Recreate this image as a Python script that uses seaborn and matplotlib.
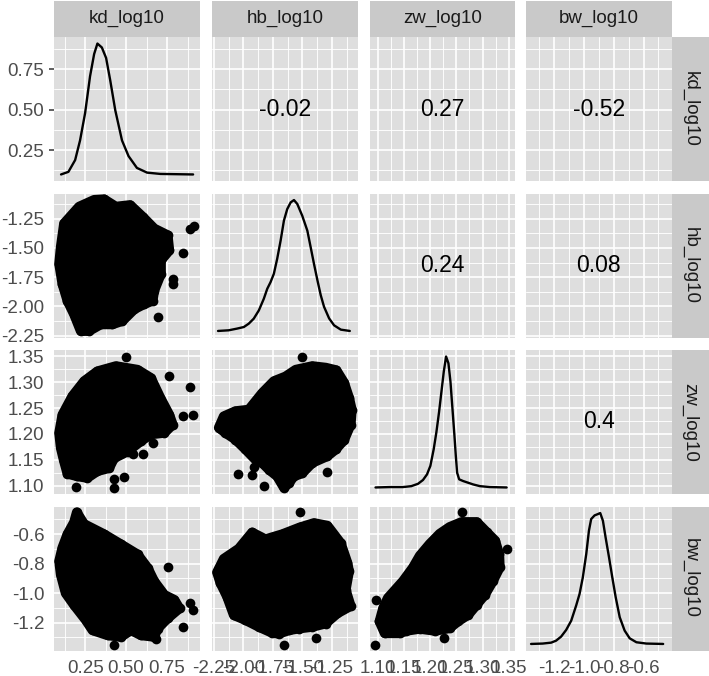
import matplotlib
matplotlib.use("Agg")
import matplotlib.pyplot as plt
import numpy as np
import pandas as pd
import seaborn as sns

# ---------------- data ----------------
variables = ["kd_log10", "hb_log10", "zw_log10", "bw_log10"]

kd_ticks = [0.25, 0.50, 0.75]
kd_tick_labels = ["0.25", "0.50", "0.75"]
hb_ticks = [-2.25, -2.00, -1.75, -1.50, -1.25]
hb_tick_labels = ["-2.25", "-2.00", "-1.75", "-1.50", "-1.25"]
zw_ticks = [1.10, 1.15, 1.20, 1.25, 1.30, 1.35]
zw_tick_labels = ["1.10", "1.15", "1.20", "1.25", "1.30", "1.35"]
bw_ticks = [-1.2, -1.0, -0.8, -0.6]
bw_tick_labels = ["-1.2", "-1.0", "-0.8", "-0.6"]

# correlation labels in the upper triangle (row, col)
corr_cells = [(0, 1), (0, 2), (0, 3), (1, 2), (1, 3), (2, 3)]
corr_labels = ["-0.02", "0.27", "-0.52", "0.24", "0.08", "0.4"]

# diagonal density curves (x value, relative density)
kd_dens_x = [0.103, 0.148, 0.189, 0.219, 0.250, 0.280, 0.305, 0.325, 0.352, 0.378, 0.403,
             0.434, 0.475, 0.515, 0.566, 0.628, 0.709, 0.909]
kd_dens_y = [0.0, 0.02, 0.11, 0.26, 0.47, 0.75, 0.92, 1.0, 0.97, 0.89, 0.72,
             0.49, 0.26, 0.14, 0.05, 0.014, 0.004, 0.0]
hb_dens_x = [-2.214, -2.124, -2.053, -1.996, -1.954, -1.912, -1.869, -1.827, -1.798, -1.770,
             -1.742, -1.714, -1.685, -1.657, -1.629, -1.600, -1.572, -1.544, -1.502, -1.459,
             -1.431, -1.403, -1.374, -1.346, -1.318, -1.275, -1.233, -1.176, -1.100]
hb_dens_y = [0.0, 0.005, 0.018, 0.03, 0.056, 0.094, 0.157, 0.246, 0.322, 0.373,
             0.437, 0.551, 0.69, 0.843, 0.931, 0.982, 1.0, 0.97, 0.88, 0.766,
             0.64, 0.513, 0.388, 0.274, 0.185, 0.096, 0.043, 0.01, 0.0]
zw_dens_x = [1.0955, 1.1223, 1.1479, 1.1639, 1.1767, 1.1862, 1.1939, 1.2003, 1.2067, 1.2118,
             1.2169, 1.2214, 1.2259, 1.2303, 1.2348, 1.2387, 1.2425, 1.2463, 1.2489, 1.2514,
             1.2553, 1.2629, 1.2725, 1.2821, 1.2949, 1.3141, 1.3460]
zw_dens_y = [0.0, 0.003, 0.003, 0.01, 0.028, 0.057, 0.10, 0.165, 0.293, 0.422,
             0.576, 0.73, 0.884, 1.0, 0.949, 0.807, 0.602, 0.396, 0.242, 0.113,
             0.062, 0.049, 0.036, 0.023, 0.01, 0.003, 0.0]
bw_dens_x = [-1.356, -1.278, -1.221, -1.188, -1.154, -1.120, -1.086, -1.053, -1.030, -1.008,
             -0.985, -0.967, -0.952, -0.929, -0.907, -0.891, -0.873, -0.855, -0.832, -0.810,
             -0.787, -0.760, -0.727, -0.693, -0.648, -0.581, -0.468]
bw_dens_y = [0.0, 0.003, 0.01, 0.025, 0.056, 0.107, 0.178, 0.293, 0.382, 0.509,
             0.687, 0.865, 0.954, 0.982, 0.992, 1.0, 0.941, 0.814, 0.662, 0.509,
             0.356, 0.204, 0.102, 0.043, 0.013, 0.003, 0.0]

# scatter clouds: outline of the dense point mass + isolated points (x, y)
cloud_kd_hb = [(0.121, -1.291), (0.213, -1.147), (0.305, -1.089), (0.366, -1.084), (0.438, -1.147),
               (0.525, -1.133), (0.601, -1.233), (0.672, -1.334), (0.754, -1.391), (0.764, -1.521),
               (0.713, -1.607), (0.713, -1.722), (0.672, -1.865), (0.662, -1.952), (0.611, -1.980),
               (0.550, -2.024), (0.478, -2.124), (0.417, -2.153), (0.346, -2.153), (0.274, -2.210),
               (0.223, -2.210), (0.182, -2.067), (0.142, -1.952), (0.111, -1.808), (0.091, -1.636),
               (0.101, -1.492)]
points_kd_hb = [(0.846, -1.544), (0.887, -1.342), (0.913, -1.314), (0.785, -1.765),
                (0.789, -1.808), (0.697, -2.090)]

cloud_kd_zw = [(0.172, 1.273), (0.244, 1.302), (0.325, 1.321), (0.438, 1.331), (0.570, 1.324),
               (0.652, 1.308), (0.709, 1.270), (0.764, 1.237), (0.785, 1.218), (0.734, 1.202),
               (0.652, 1.199), (0.591, 1.186), (0.509, 1.166), (0.427, 1.153), (0.397, 1.134),
               (0.325, 1.128), (0.264, 1.115), (0.203, 1.118), (0.142, 1.123), (0.121, 1.147),
               (0.101, 1.173), (0.091, 1.202), (0.111, 1.237)]
points_kd_zw = [(0.193, 1.097), (0.427, 1.112), (0.427, 1.095), (0.489, 1.116), (0.544, 1.161),
                (0.601, 1.161), (0.662, 1.182), (0.499, 1.349), (0.760, 1.311), (0.887, 1.290),
                (0.846, 1.234), (0.911, 1.236)]

cloud_kd_bw = [(0.199, -0.451), (0.244, -0.531), (0.366, -0.600), (0.468, -0.668), (0.570, -0.737),
               (0.632, -0.829), (0.672, -0.920), (0.734, -1.012), (0.795, -1.046), (0.826, -1.104),
               (0.754, -1.172), (0.693, -1.241), (0.672, -1.298), (0.591, -1.287), (0.530, -1.253),
               (0.468, -1.298), (0.387, -1.287), (0.295, -1.253), (0.254, -1.184), (0.182, -1.081),
               (0.131, -1.001), (0.101, -0.875), (0.091, -0.783), (0.111, -0.691), (0.142, -0.600),
               (0.182, -0.519)]
points_kd_bw = [(0.758, -0.824), (0.887, -1.069), (0.907, -1.115), (0.846, -1.230),
                (0.427, -1.356), (0.683, -1.310)]

cloud_hb_zw = [(-2.208, 1.212), (-2.166, 1.234), (-2.067, 1.244), (-1.954, 1.247), (-1.841, 1.279),
               (-1.742, 1.302), (-1.643, 1.311), (-1.558, 1.324), (-1.417, 1.331), (-1.304, 1.328),
               (-1.213, 1.323), (-1.148, 1.299), (-1.106, 1.270), (-1.083, 1.247), (-1.092, 1.218),
               (-1.148, 1.188), (-1.219, 1.170), (-1.289, 1.157), (-1.417, 1.144), (-1.502, 1.124),
               (-1.572, 1.118), (-1.615, 1.105), (-1.657, 1.096), (-1.714, 1.118), (-1.784, 1.131),
               (-1.841, 1.144), (-1.897, 1.150), (-1.982, 1.170), (-2.067, 1.189), (-2.152, 1.202)]
points_hb_zw = [(-1.502, 1.349), (-1.289, 1.126), (-1.827, 1.099), (-2.044, 1.123),
                (-1.926, 1.121), (-1.912, 1.136)]

cloud_hb_bw = [(-2.166, -0.767), (-2.039, -0.698), (-1.926, -0.588), (-1.813, -0.634), (-1.671, -0.600),
               (-1.524, -0.554), (-1.403, -0.524), (-1.289, -0.542), (-1.176, -0.661), (-1.120, -0.794),
               (-1.106, -0.852), (-1.134, -0.978), (-1.092, -1.088), (-1.205, -1.138), (-1.304, -1.207),
               (-1.417, -1.230), (-1.530, -1.241), (-1.615, -1.253), (-1.699, -1.276), (-1.756, -1.271),
               (-1.869, -1.230), (-1.982, -1.184), (-2.081, -1.150), (-2.138, -1.024), (-2.194, -0.932),
               (-2.223, -0.859)]
points_hb_bw = [(-1.524, -0.451), (-1.657, -1.356), (-1.388, -1.303)]

cloud_zw_bw = [(1.119, -1.033), (1.148, -0.918), (1.167, -0.826), (1.180, -0.746), (1.199, -0.666),
               (1.218, -0.597), (1.237, -0.551), (1.260, -0.517), (1.289, -0.517), (1.308, -0.586),
               (1.324, -0.643), (1.332, -0.735), (1.333, -0.826), (1.320, -0.918), (1.305, -1.010),
               (1.289, -1.079), (1.273, -1.147), (1.253, -1.193), (1.237, -1.239), (1.209, -1.257),
               (1.180, -1.243), (1.154, -1.257), (1.142, -1.273), (1.113, -1.273), (1.103, -1.193),
               (1.110, -1.101)]
points_zw_bw = [(1.260, -0.448), (1.347, -0.700), (1.226, -1.308), (1.094, -1.353), (1.097, -1.044)]

# ---------------- styling / layout ----------------
sns.set_style("white")
plt.rcParams["font.family"] = ["Liberation Sans", "DejaVu Sans"]

PANEL_BG = "#DEDEDE"
STRIP_BG = "#C9C9C9"
AXIS_TXT = "#4D4D4D"
TICK_COL = "#333333"

limits = [(0.06, 0.948), (-2.265, -1.035), (1.084, 1.362), (-1.39, -0.412)]
ticks = [kd_ticks, hb_ticks, zw_ticks, bw_ticks]
tick_labels = [kd_tick_labels, hb_tick_labels, zw_tick_labels, bw_tick_labels]
densities = [(kd_dens_x, kd_dens_y), (hb_dens_x, hb_dens_y),
             (zw_dens_x, zw_dens_y), (bw_dens_x, bw_dens_y)]
clouds = {(1, 0): (cloud_kd_hb, points_kd_hb), (2, 0): (cloud_kd_zw, points_kd_zw),
          (3, 0): (cloud_kd_bw, points_kd_bw), (2, 1): (cloud_hb_zw, points_hb_zw),
          (3, 1): (cloud_hb_bw, points_hb_bw), (3, 2): (cloud_zw_bw, points_zw_bw)}


def minor_ticks(major, lim):
    step = major[1] - major[0]
    cand = [major[0] - step / 2] + [m + step / 2 for m in major]
    return [v for v in cand if lim[0] <= v <= lim[1]]


W, H = 709, 676
fig = plt.figure(figsize=(W / 100, H / 100), dpi=100)
fig.patch.set_facecolor("white")

col_left = [54, 212, 369.5, 526]
col_w = 145.5
row_top = [37, 193.5, 350, 506.5]
row_h = 144

MARK_D_PT = 7.0  # marker diameter in points


def px_axes(x0, y0, w, h):
    return fig.add_axes([x0 / W, 1 - (y0 + h) / H, w / W, h / H])


for r in range(4):
    for c in range(4):
        ax = px_axes(col_left[c], row_top[r], col_w, row_h)
        ax.set_facecolor(PANEL_BG)
        for s in ax.spines.values():
            s.set_visible(False)
        ax.set_xlim(limits[c])
        ax.set_ylim(limits[r])
        ax.set_xticks(ticks[c])
        ax.set_yticks(ticks[r])
        ax.set_xticks(minor_ticks(ticks[c], limits[c]), minor=True)
        ax.set_yticks(minor_ticks(ticks[r], limits[r]), minor=True)
        ax.set_axisbelow(True)
        ax.grid(which="major", color="white", linewidth=1.2)
        ax.grid(which="minor", color="white", linewidth=0.65)
        ax.tick_params(which="both", length=0, labelbottom=False, labelleft=False)

        if c == 0:
            ax.set_yticklabels(tick_labels[r])
            ax.tick_params(axis="y", which="major", length=3.6, width=1.1, color=TICK_COL,
                           labelleft=True, labelsize=13.5, labelcolor=AXIS_TXT, pad=3.4)
        if r == 3:
            ax.set_xticklabels(tick_labels[c])
            ax.tick_params(axis="x", which="major", length=3.6, width=1.1, color=TICK_COL,
                           labelbottom=True, labelsize=13.5, labelcolor=AXIS_TXT, pad=3.0)
        ax.set_xlabel("")
        ax.set_ylabel("")

        if r == c:
            dens = ax.twinx()
            dens.set_ylim(-0.05, 1.05)
            dx, dy = densities[c]
            sns.lineplot(x=dx, y=dy, ax=dens, color="black", linewidth=1.7,
                         estimator=None, sort=False)
            dens.set_axis_off()
        elif r > c:
            cloud, pts = clouds[(r, c)]
            cdf = pd.DataFrame(cloud, columns=["x", "y"])
            pdf = pd.DataFrame(cloud + pts, columns=["x", "y"])
            ax.fill(cdf["x"], cdf["y"], facecolor="black", edgecolor="black",
                    linewidth=MARK_D_PT, joinstyle="round", zorder=2)
            sns.scatterplot(data=pdf, x="x", y="y", ax=ax, color="black", s=MARK_D_PT ** 2,
                            linewidth=0, zorder=3, legend=False)
            ax.set_xlabel("")
            ax.set_ylabel("")
        else:
            lab = corr_labels[corr_cells.index((r, c))]
            ax.text(0.5, 0.5, lab, transform=ax.transAxes, ha="center", va="center",
                    fontsize=16.5, color="black")

# top strips
for c in range(4):
    sa = px_axes(col_left[c], 0.5, col_w, 36.5)
    sa.set_facecolor(STRIP_BG)
    sa.set_xticks([])
    sa.set_yticks([])
    for s in sa.spines.values():
        s.set_visible(False)
    sa.text(0.5, 0.5, variables[c], transform=sa.transAxes, ha="center", va="center",
            fontsize=13.5, color="#1A1A1A")

# right strips
for r in range(4):
    sa = px_axes(671.5, row_top[r], 37.5, row_h)
    sa.set_facecolor(STRIP_BG)
    sa.set_xticks([])
    sa.set_yticks([])
    for s in sa.spines.values():
        s.set_visible(False)
    sa.text(0.5, 0.5, variables[r], transform=sa.transAxes, ha="center", va="center",
            rotation=270, fontsize=13.5, color="#1A1A1A")

fig.savefig("out.png", dpi=100, facecolor="white")
